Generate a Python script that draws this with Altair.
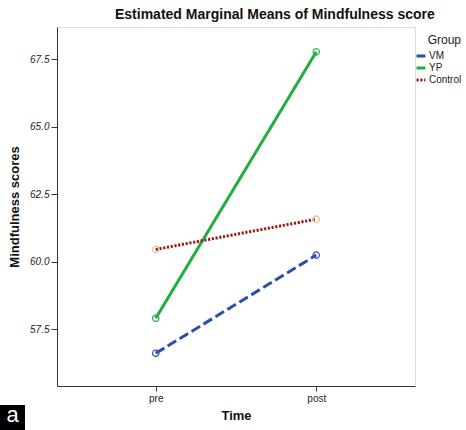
import altair as alt
import pandas as pd

groups = ["VM", "YP", "Control"]
times = ["pre", "post"]
vm_scores = [56.6, 60.24]
yp_scores = [57.9, 67.77]
control_scores = [60.45, 61.57]
y_ticks = [57.5, 60.0, 62.5, 65.0, 67.5]

line_colors = ["#2d4ea6", "#22ad3f", "#9b1c1f"]
point_colors = ["#3a55b0", "#2fb34a", "#d9c996"]
dashes = [[10, 4], [1, 0], [2.2, 1.6]]

rows = []
for g, vals, pc in zip(groups, [vm_scores, yp_scores, control_scores], point_colors):
    for t, v in zip(times, vals):
        rows.append({"Group": g, "Time": t, "Score": v, "pcolor": pc})
df = pd.DataFrame(rows)

FONT = "Liberation Sans"

x_enc = alt.X("Time:N", sort=times,
              scale=alt.Scale(type="point", padding=0.615),
              axis=alt.Axis(title="Time", labelAngle=0, tickSize=5, labelPadding=2,
                            titlePadding=6, titleFontSize=13, titleFontWeight="bold",
                            labelFontSize=10, grid=False, domainColor="#333",
                            tickColor="#333", labelColor="#222", titleColor="#111"))
y_enc = alt.Y("Score:Q",
              scale=alt.Scale(domain=[55.39, 68.69], nice=False, zero=False),
              axis=alt.Axis(title="Mindfulness scores", values=y_ticks, format=".1f",
                            tickSize=6, labelPadding=2, titlePadding=8,
                            titleFontSize=13, titleFontWeight="bold",
                            labelFontSize=10, labelFontStyle="italic", grid=False,
                            domainColor="#333", tickColor="#333",
                            labelColor="#222", titleColor="#111"))

lines = alt.Chart(df).mark_line(strokeWidth=3).encode(
    x=x_enc,
    y=y_enc,
    color=alt.Color("Group:N", sort=groups,
                    scale=alt.Scale(domain=groups, range=line_colors),
                    legend=alt.Legend(title="Group", orient="none", legendX=358, legendY=8,
                                      symbolType="stroke", symbolStrokeWidth=3,
                                      symbolSize=80, rowPadding=-10, labelFontSize=10,
                                      titleFontSize=12, titleFontWeight="normal",
                                      titleAnchor="end", labelOffset=2, padding=0,
                                      titlePadding=3, labelColor="#222", titleColor="#222")),
    strokeDash=alt.StrokeDash("Group:N", sort=groups,
                              scale=alt.Scale(domain=groups, range=dashes),
                              legend=None),
)

points = alt.Chart(df).mark_point(filled=False, size=40, strokeWidth=1.3, opacity=1).encode(
    x=alt.X("Time:N", sort=times),
    y="Score:Q",
    stroke=alt.Stroke("pcolor:N", scale=None, legend=None),
)

badge = pd.DataFrame({"label": ["a"]})
box = alt.Chart(badge).mark_rect(color="black").encode(
    x=alt.value(-57), x2=alt.value(-32), y=alt.value(378), y2=alt.value(403)
)
letter = alt.Chart(badge).mark_text(color="white", fontSize=22, font=FONT,
                                    baseline="middle", align="center").encode(
    x=alt.value(-44.5), y=alt.value(388), text="label:N"
)

chart = alt.layer(lines, points, box, letter).properties(
    width=358, height=359,
    title=alt.TitleParams("Estimated Marginal Means of Mindfulness score",
                          anchor="start", frame="group", dx=58, offset=5,
                          fontSize=14, fontWeight="bold", font=FONT, color="#111"),
    autosize=alt.AutoSizeParams(type="none"),
    padding={"left": 57, "top": 27, "right": 51, "bottom": 44},
).configure_view(
    fill="#f2f2f2", stroke="#333", strokeWidth=1.5
).configure(
    font=FONT, background="white"
)

chart.save("out.html", embed_options={"renderer": "svg", "actions": False})
